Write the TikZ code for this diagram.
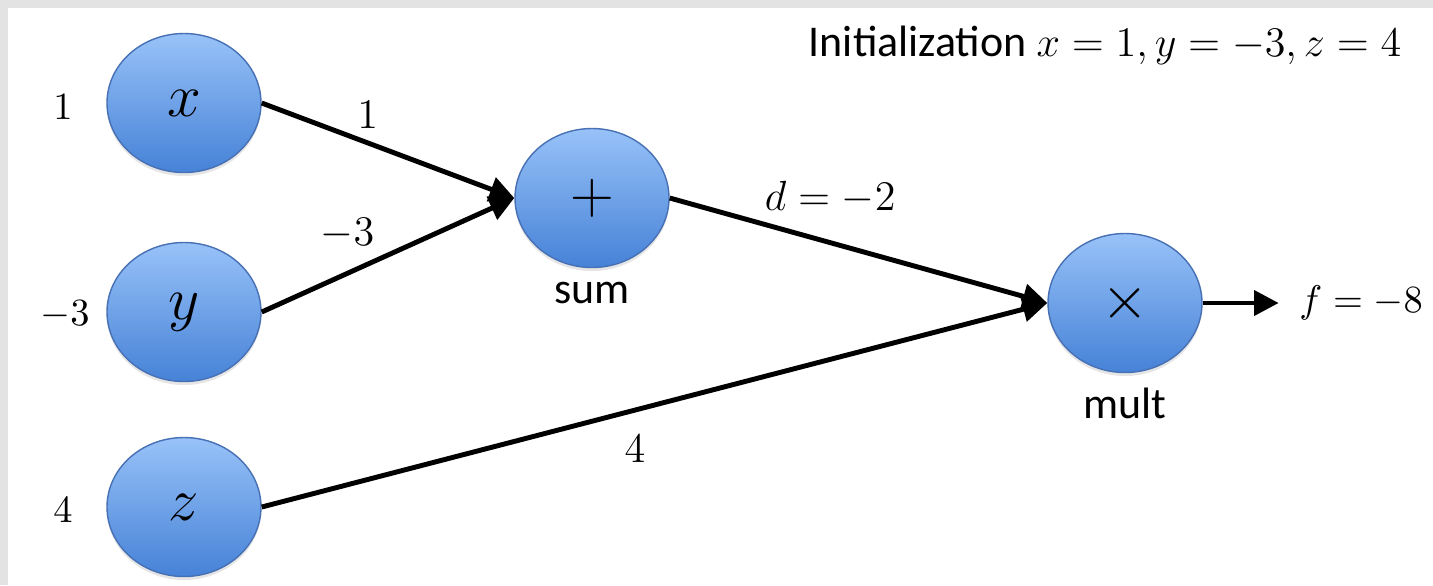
\documentclass[tikz,border=0pt]{standalone}
\usepackage{fontspec}
\setsansfont{Carlito}
\usepackage{tikz}
\usetikzlibrary{arrows.meta, positioning, shapes.geometric, shadows}

\definecolor{balltop}{RGB}{152,194,248}
\definecolor{ballbot}{RGB}{70,130,215}
\definecolor{ballrim}{RGB}{72,112,180}

\begin{document}
\begin{tikzpicture}[
  >={Triangle[length=7pt, width=7pt]},
  gate/.style={ellipse, draw=ballrim, line width=0.4pt, top color=balltop,
    bottom color=ballbot, minimum width=1.54cm, minimum height=1.39cm,
    inner sep=0pt, font=\fontsize{18}{20}\selectfont,
    drop shadow={opacity=0.2, shadow xshift=0pt, shadow yshift=-1pt}},
  val/.style={font=\fontsize{11}{13}\selectfont},
  wlbl/.style={font=\fontsize{12}{14}\selectfont},
  opname/.style={font=\sffamily\fontsize{12.5}{14}\selectfont},
  arr/.style={->, line width=1.4pt},
]

  % frame
  \fill[gray!22] (0,0) rectangle (14.33,-5.85);
  \fill[white] (0.08,-0.08) rectangle (14.33,-5.85);
  \useasboundingbox (0,0) rectangle (14.33,-5.85);

  \node[font=\sffamily\fontsize{12.5}{14}\selectfont] (init) at (11.05,-0.45)
    {Initialization $x = 1, y = -3, z = 4$};

  % inputs
  \node[gate] (x) at (1.84,-1.03) {$x$};
  \node[gate] (y) at (1.84,-3.12) {$y$};
  \node[gate] (z) at (1.84,-5.07) {$z$};
  \node[val] (xval) at (0.63,-1.07) {$1$};
  \node[val] (yval) at (0.65,-3.15) {$-3$};
  \node[val] (zval) at (0.63,-5.10) {$4$};

  % operations
  \node[gate] (sum) at (5.92,-1.98) {$+$};
  \node[gate] (mult) at (11.25,-3.03) {$\times$};
  \node[opname, below=0.02cm of sum] (sumname) {sum};
  \node[opname, below=0.02cm of mult] (multname) {mult};
  \node[wlbl, font=\fontsize{11.4}{13}\selectfont, right=0.76cm of mult,
    inner xsep=0.2cm] (fout) {$f = -8$};

  % edges
  \draw[arr] (x.east) -- node[wlbl, pos=0.42, above=0pt] (wx) {$1$} (sum.west);
  \draw[arr] (y.east) -- node[wlbl, pos=0.34, above=3pt] (wy) {$-3$} (sum.west);
  \draw[arr] (sum.east) -- node[wlbl, pos=0.425, above=4pt] (wd) {$d = -2$} (mult.west);
  \draw[arr] (z.east) -- node[wlbl, pos=0.475, below=3pt] (wz) {$4$} (mult.west);
  \draw[arr] (mult.east) -- (fout.west);

\end{tikzpicture}
\end{document}
